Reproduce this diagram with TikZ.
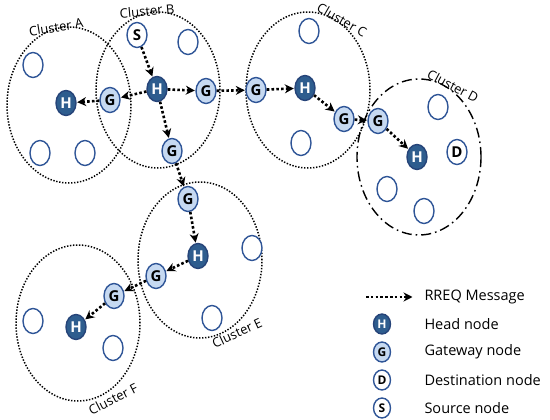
\documentclass[tikz,border=0pt]{standalone}
\usepackage{fontspec}
\setmainfont{Open Sans}
\usetikzlibrary{shapes.geometric,arrows.meta}
\definecolor{hdark}{HTML}{2E5D8E}
\definecolor{bord}{HTML}{2F5597}
\definecolor{glight}{HTML}{C6D9F1}
\begin{document}
\begin{tikzpicture}[x=1pt,y=-1pt,
  cluster/.style={ellipse,draw=black,line width=1.5pt,dash pattern=on 1.4pt off 1.6pt,minimum width=124pt,minimum height=156pt,inner sep=0pt},
  clusterd/.style={ellipse,draw=black,line width=1.4pt,dash pattern=on 10pt off 4pt on 1.6pt off 4pt,minimum width=124pt,minimum height=156pt,inner sep=0pt},
  nd/.style={ellipse,line width=1.4pt,minimum width=20pt,minimum height=25pt,inner sep=0pt,font=\bfseries\fontsize{15}{15}\selectfont},
  plain/.style={nd,draw=bord,fill=white},
  head/.style={nd,draw=bord!80!black,fill=hdark,text=white},
  gate/.style={nd,draw=bord,fill=glight},
  dest/.style={nd,draw=bord,fill=white},
  lnd/.style={ellipse,line width=1.4pt,minimum width=17pt,minimum height=20pt,inner sep=0pt,font=\bfseries\fontsize{12}{12}\selectfont},
  clab/.style={font=\fontsize{13}{13}\selectfont},
  leg/.style={font=\fontsize{14.5}{15}\selectfont,anchor=west},
  msg/.style={line width=2.6pt,dash pattern=on 2.6pt off 2.2pt,-{Stealth[length=9pt,width=9pt,inset=3pt]},shorten >=0.5pt}
]
\useasboundingbox (0,0) rectangle (550,420);
% clusters
\node[cluster] (cA) at (69,105) {};
\node[cluster] (cB) at (158,90) {};
\node[cluster] (cC) at (308,90) {};
\node[clusterd] (cD) at (419,157) {};
\node[cluster] (cE) at (200,260) {};
\node[cluster] (cF) at (78,323) {};
% cluster labels
\node[clab,rotate=9] (lA) at (56,27) {Cluster A};
\node[clab,rotate=5] (lB) at (147,11) {Cluster B};
\node[clab,rotate=-30] (lC) at (342,20) {Cluster C};
\node[clab,rotate=-28] (lD) at (453,86) {Cluster D};
\node[clab,rotate=25] (lE) at (237,333) {Cluster E};
\node[clab,rotate=27] (lF) at (113,399) {Cluster F};
% cluster A
\node[plain] (a1) at (33,65) {};
\node[head] (hA) at (66,103) {H};
\node[plain] (a2) at (40,153) {};
\node[plain] (a3) at (85,153) {};
% cluster B
\node[gate] (gA) at (110,100) {G};
\node[dest] (s) at (137,35) {S};
\node[plain] (b1) at (188,42) {};
\node[head] (hB) at (157,89) {H};
\node[gate] (gB1) at (206,91) {G};
\node[gate] (gB2) at (172,151) {G};
% cluster C
\node[gate] (gC1) at (256,90) {G};
\node[head] (hC) at (305,88) {H};
\node[plain] (c1) at (309,31) {};
\node[gate] (gC2) at (344,119) {G};
\node[plain] (c2) at (301,143) {};
% cluster D
\node[gate] (gD) at (378,121) {G};
\node[head] (hD) at (417,157) {H};
\node[dest] (d) at (457,152) {D};
\node[plain] (d1) at (438,107) {};
\node[plain] (d2) at (387,189) {};
\node[plain] (d3) at (424,211) {};
% cluster E
\node[gate] (gE1) at (188,199) {G};
\node[head] (hE) at (198,256) {H};
\node[gate] (gE2) at (156,276) {G};
\node[plain] (e1) at (252,248) {};
\node[plain] (e2) at (212,318) {};
% cluster F
\node[gate] (gF) at (114,296) {G};
\node[head] (hF) at (76,327) {H};
\node[plain] (f1) at (33,321) {};
\node[plain] (f2) at (113,348) {};
% messages
\draw[msg] (s) -- (hB);
\draw[msg] (hB) -- (gA);
\draw[msg] (gA) -- (hA);
\draw[msg] (hB) -- (gB1);
\draw[msg] (gB1) -- (gC1);
\draw[msg] (gC1) -- (hC);
\draw[msg] (hC) -- (gC2);
\draw[msg] (gC2) -- (gD);
\draw[msg] (gD) -- (hD);
\draw[msg] (hB) -- (gB2);
\draw[msg] (gB2) -- (gE1);
\draw[msg] (gE1) -- (hE);
\draw[msg] (hE) -- (gE2);
\draw[msg] (gE2) -- (gF);
\draw[msg] (gF) -- (hF);
% legend
\coordinate (la0) at (366,297);
\coordinate (la1) at (413,297);
\draw[msg] (la0) -- (la1);
\node[leg] (t0) at (421,297) {RREQ Message};
\node[lnd,draw=bord!80!black,fill=hdark,text=white] (i1) at (382,324) {H};
\node[leg] (t1) at (421,324) {Head node};
\node[lnd,draw=bord,fill=glight] (i2) at (382,352) {G};
\node[leg] (t2) at (421,352) {Gateway node};
\node[lnd,draw=bord,fill=white] (i3) at (382,380) {D};
\node[leg] (t3) at (421,380) {Destination node};
\node[lnd,draw=bord,fill=white] (i4) at (382,408) {S};
\node[leg] (t4) at (421,408) {Source node};
\end{tikzpicture}
\end{document}
